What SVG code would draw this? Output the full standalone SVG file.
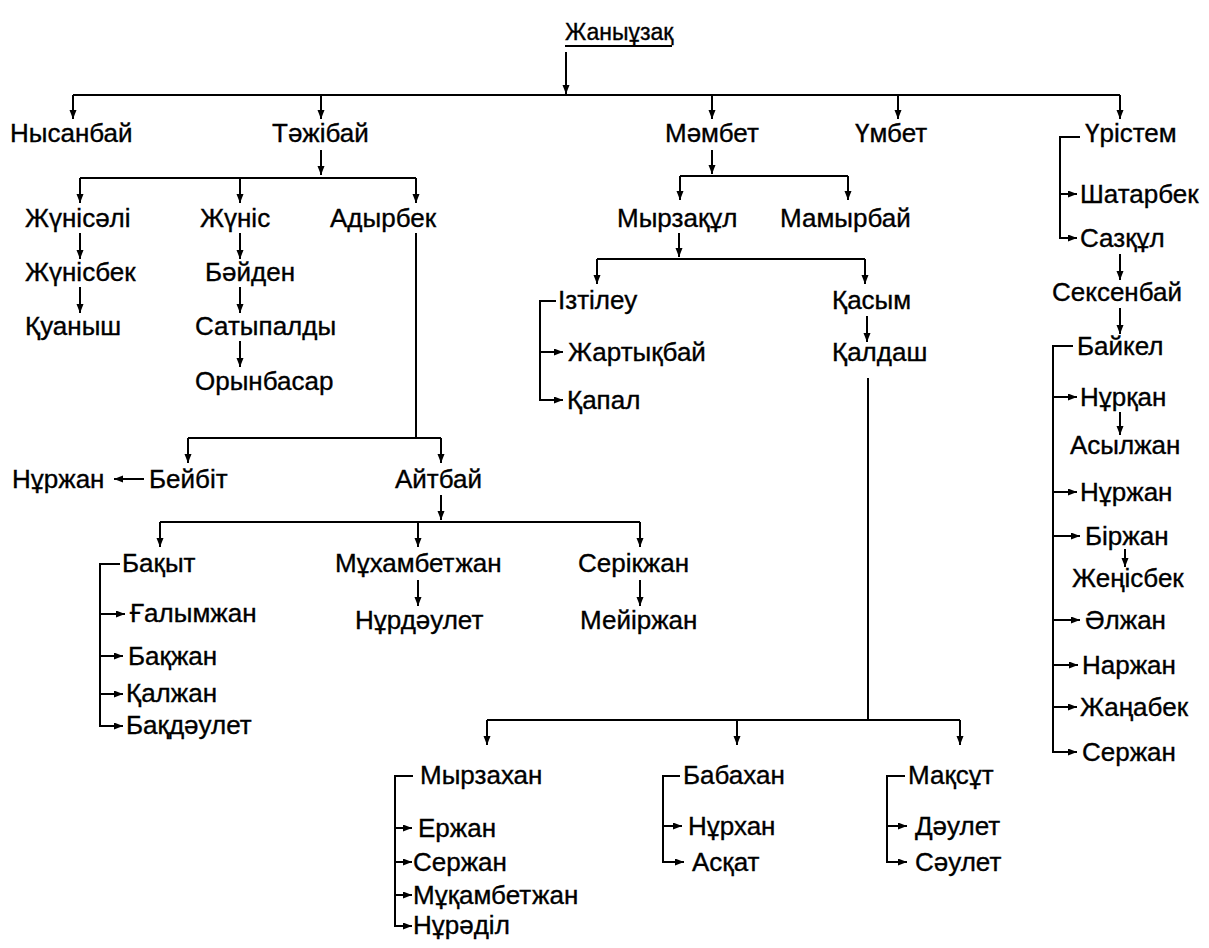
<svg xmlns="http://www.w3.org/2000/svg" width="1209" height="948" viewBox="0 0 1209 948">
<defs>
<style>
text{font-family:"Liberation Sans",Arial,sans-serif;font-size:26px;fill:#000;stroke:#000;stroke-width:0.35}
.t{font-size:23px}
.c{fill:none;stroke:#000;stroke-width:2}
.a{marker-end:url(#ah)}
</style>
<marker id="ah" markerUnits="userSpaceOnUse" markerWidth="9" markerHeight="8" refX="9" refY="3.5" orient="auto">
<path d="M0,0 L9,3.5 L0,7 z" fill="#000"/>
</marker>
</defs>
<rect width="1209" height="948" fill="#fff"/>
<g id="connectors">
<path class="c" d="M565,46 H672"/>
<path class="c a" d="M566,52 V94"/>
<path class="c" d="M73,95 H1120"/>
<path class="c a" d="M73,95 V119"/>
<path class="c a" d="M321,95 V119"/>
<path class="c a" d="M712,95 V119"/>
<path class="c a" d="M898,95 V119"/>
<path class="c a" d="M1120,95 V119"/>
<path class="c a" d="M321,150 V175"/>
<path class="c" d="M80,178 H416"/>
<path class="c a" d="M80,178 V203"/>
<path class="c a" d="M240,178 V203"/>
<path class="c a" d="M416,178 V203"/>
<path class="c a" d="M80,233 V259"/>
<path class="c a" d="M80,287 V313"/>
<path class="c a" d="M240,233 V259"/>
<path class="c a" d="M240,287 V313"/>
<path class="c a" d="M240,341 V367"/>
<path class="c" d="M416,233 V438 M188,438 H441"/>
<path class="c a" d="M188,438 V463"/>
<path class="c a" d="M441,438 V463"/>
<path class="c a" d="M144,479 H114"/>
<path class="c a" d="M441,495 V520"/>
<path class="c" d="M160,522 H640"/>
<path class="c a" d="M160,522 V547"/>
<path class="c a" d="M418,522 V547"/>
<path class="c a" d="M640,522 V547"/>
<path class="c a" d="M418,580 V606"/>
<path class="c a" d="M640,580 V606"/>
<path class="c a" d="M120,564 H100 V726 H123"/>
<path class="c a" d="M100,614 H125"/>
<path class="c a" d="M100,656 H123"/>
<path class="c a" d="M100,694 H123"/>
<path class="c a" d="M712,150 V174"/>
<path class="c" d="M680,176 H848"/>
<path class="c a" d="M680,176 V200"/>
<path class="c a" d="M848,176 V200"/>
<path class="c a" d="M679,233 V257"/>
<path class="c" d="M597,259 H865"/>
<path class="c a" d="M597,259 V284"/>
<path class="c a" d="M865,259 V284"/>
<path class="c a" d="M556,301 H540 V400 H563"/>
<path class="c a" d="M540,352 H563"/>
<path class="c a" d="M867,316 V342"/>
<path class="c" d="M868,378 V720 M487,720 H960"/>
<path class="c a" d="M487,720 V745"/>
<path class="c a" d="M737,720 V745"/>
<path class="c a" d="M960,720 V745"/>
<path class="c a" d="M413,776 H395 V926 H412"/>
<path class="c a" d="M395,828 H412"/>
<path class="c a" d="M395,862 H412"/>
<path class="c a" d="M395,895 H412"/>
<path class="c a" d="M680,776 H663 V862 H684"/>
<path class="c a" d="M663,826 H682"/>
<path class="c a" d="M905,776 H887 V862 H907"/>
<path class="c a" d="M887,826 H907"/>
<path class="c a" d="M1080,137 H1060 V238 H1077"/>
<path class="c a" d="M1060,194 H1077"/>
<path class="c a" d="M1120,254 V280"/>
<path class="c a" d="M1120,308 V334"/>
<path class="c a" d="M1073,346 H1053 V752 H1077"/>
<path class="c a" d="M1053,397 H1077"/>
<path class="c a" d="M1053,492 H1077"/>
<path class="c a" d="M1053,536 H1080"/>
<path class="c a" d="M1053,620 H1080"/>
<path class="c a" d="M1053,665 H1078"/>
<path class="c a" d="M1053,707 H1077"/>
<path class="c a" d="M1120,412 V435"/>
<path class="c a" d="M1125,549 V567"/>
</g>
<g id="n-zhanyuzak"><text class="t" x="565" y="40">Жаныұзақ</text></g>
<g id="n-nysanbai"><text x="10" y="142">Нысанбай</text></g>
<g id="n-tazhibai"><text x="272" y="142">Тәжібай</text></g>
<g id="n-mambet"><text x="665" y="142">Мәмбет</text></g>
<g id="n-umbet"><text x="855" y="142">Үмбет</text></g>
<g id="n-uristem"><text x="1085" y="142">Үрістем</text></g>
<g id="n-zhunisali"><text x="25" y="227">Жүнісәлі</text></g>
<g id="n-zhunis"><text x="200" y="227">Жүніс</text></g>
<g id="n-adyrbek"><text x="330" y="227">Адырбек</text></g>
<g id="n-zhunisbek"><text x="25" y="281">Жүнісбек</text></g>
<g id="n-kuanysh"><text x="25" y="335">Қуаныш</text></g>
<g id="n-baiden"><text x="205" y="281">Бәйден</text></g>
<g id="n-satypaldy"><text x="195" y="335">Сатыпалды</text></g>
<g id="n-orynbasar"><text x="195" y="390">Орынбасар</text></g>
<g id="n-myrzakul"><text x="617" y="227">Мырзақұл</text></g>
<g id="n-mamyrbai"><text x="780" y="227">Мамырбай</text></g>
<g id="n-iztileu"><text x="558" y="309">Ізтілеу</text></g>
<g id="n-kasym"><text x="832" y="309">Қасым</text></g>
<g id="n-zhartykbai"><text x="568" y="361">Жартықбай</text></g>
<g id="n-kapal"><text x="567" y="409">Қапал</text></g>
<g id="n-kaldash"><text x="832" y="361">Қалдаш</text></g>
<g id="n-nurzhan1"><text x="12" y="488">Нұржан</text></g>
<g id="n-beibit"><text x="149" y="488">Бейбіт</text></g>
<g id="n-aitbai"><text x="395" y="488">Айтбай</text></g>
<g id="n-bakyt"><text x="122" y="572">Бақыт</text></g>
<g id="n-mukhambetzhan"><text x="335" y="572">Мұхамбетжан</text></g>
<g id="n-serikzhan"><text x="578" y="572">Серікжан</text></g>
<g id="n-galymzhan"><text x="130" y="622">Ғалымжан</text></g>
<g id="n-nurdaulet"><text x="355" y="629">Нұрдәулет</text></g>
<g id="n-meirzhan"><text x="580" y="629">Мейіржан</text></g>
<g id="n-bakzhan"><text x="128" y="665">Бақжан</text></g>
<g id="n-kalzhan"><text x="126" y="702">Қалжан</text></g>
<g id="n-bakdaulet"><text x="126" y="734">Бақдәулет</text></g>
<g id="n-myrzakhan"><text x="420" y="784">Мырзахан</text></g>
<g id="n-babakhan"><text x="683" y="784">Бабахан</text></g>
<g id="n-maksut"><text x="908" y="784">Мақсұт</text></g>
<g id="n-erzhan"><text x="418" y="837">Ержан</text></g>
<g id="n-serzhan1"><text x="413" y="871">Сержан</text></g>
<g id="n-mukambetzhan"><text x="413" y="904">Мұқамбетжан</text></g>
<g id="n-nuradil"><text x="413" y="934">Нұрәділ</text></g>
<g id="n-nurkhan"><text x="688" y="835">Нұрхан</text></g>
<g id="n-askat"><text x="692" y="871">Асқат</text></g>
<g id="n-daulet"><text x="915" y="835">Дәулет</text></g>
<g id="n-saulet"><text x="915" y="871">Сәулет</text></g>
<g id="n-shatarbek"><text x="1080" y="203">Шатарбек</text></g>
<g id="n-sazkul"><text x="1080" y="247">Сазқұл</text></g>
<g id="n-seksenbai"><text x="1052" y="301">Сексенбай</text></g>
<g id="n-baikel"><text x="1077" y="355">Байкел</text></g>
<g id="n-nurkan"><text x="1080" y="406">Нұрқан</text></g>
<g id="n-asylzhan"><text x="1070" y="454">Асылжан</text></g>
<g id="n-nurzhan2"><text x="1080" y="501">Нұржан</text></g>
<g id="n-birzhan"><text x="1085" y="545">Біржан</text></g>
<g id="n-zhenisbek"><text x="1072" y="587">Жеңісбек</text></g>
<g id="n-alzhan"><text x="1085" y="629">Әлжан</text></g>
<g id="n-narzhan"><text x="1082" y="674">Наржан</text></g>
<g id="n-zhanabek"><text x="1080" y="716">Жаңабек</text></g>
<g id="n-serzhan2"><text x="1082" y="761">Сержан</text></g>
</svg>
